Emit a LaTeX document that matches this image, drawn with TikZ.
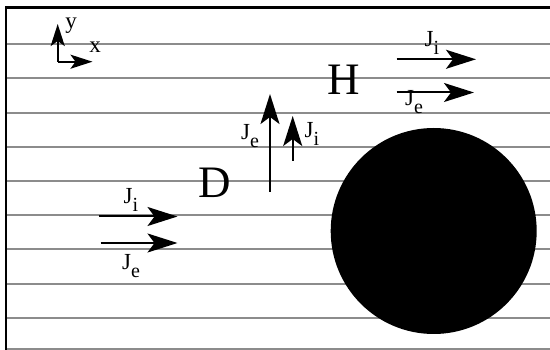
\documentclass[tikz,border=0pt]{standalone}
\usepackage{fontspec}
\setmainfont{Liberation Serif}
\usetikzlibrary{arrows.meta}
\definecolor{linegray}{HTML}{8C8C8C}
\newcommand\Jlab[1]{J\raisebox{-0.32em}{\fontsize{20}{20}\selectfont #1}}
\begin{document}
\begin{tikzpicture}[x=1pt,y=-1pt,
  gridline/.style={draw=linegray, line width=2pt},
  border/.style={draw=black, line width=2.2pt},
  bigarrow/.style={draw=black, line width=2pt, -{Stealth[length=30pt,width=19pt,inset=7pt]}},
  axisarrow/.style={draw=black, line width=2pt, -{Stealth[length=22pt,width=14pt,inset=5pt]}},
  jlabel/.style={inner sep=0pt, font=\fontsize{23}{27}\selectfont},
  biglabel/.style={inner sep=0pt, font=\fontsize{45}{50}\selectfont},
  axlabel/.style={inner sep=0pt, anchor=base, font=\fontsize{23}{27}\selectfont}]
\useasboundingbox (0,0) rectangle (550,350);
% horizontal grid lines
\foreach \k in {0,...,8} {
  \draw[gridline] (7,{44.3+34.2*\k}) -- (550,{44.3+34.2*\k});
}
\draw[gridline] (7,349.3) -- (550,349.3);
% borders
\draw[border] (6,350) -- (6,7.5) -- (550,7.5);
% obstacle
\fill[black] (433.7,231) circle (103);
% axes
\coordinate (o) at (57.7,61.7);
\coordinate (ytip) at (57.7,24);
\coordinate (xtip) at (92.5,61.7);
\draw[axisarrow] (o) -- (ytip);
\draw[axisarrow] (o) -- (xtip);
\node[axlabel] (ylab) at (71,29) {y};
\node[axlabel] (xlab) at (95,53) {x};
% region labels
\node[biglabel] (D) at (215,183) {D};
\node[biglabel] (H) at (343.5,80) {H};
% lower-left arrows
\coordinate (a1s) at (98.5,216.5);
\coordinate (a1e) at (177.5,216.5);
\coordinate (a2s) at (100.5,243);
\coordinate (a2e) at (177.5,243);
\draw[bigarrow] (a1s) -- (a1e);
\draw[bigarrow] (a2s) -- (a2e);
\node[jlabel] (ji1) at (131,200) {\Jlab{i}};
\node[jlabel] (je1) at (131,266) {\Jlab{e}};
% vertical arrows
\coordinate (v1s) at (270,191.7);
\coordinate (v1e) at (270,94);
\coordinate (v2s) at (292.7,160.7);
\coordinate (v2e) at (292.7,116);
\draw[bigarrow] (v1s) -- (v1e);
\draw[bigarrow] (v2s) -- (v2e);
\node[jlabel] (je2) at (250,136) {\Jlab{e}};
\node[jlabel] (ji2) at (312,134) {\Jlab{i}};
% upper-right arrows
\coordinate (h1s) at (396.5,59.3);
\coordinate (h1e) at (476,59.3);
\coordinate (h2s) at (396.5,92.5);
\coordinate (h2e) at (474,92.5);
\draw[bigarrow] (h1s) -- (h1e);
\draw[bigarrow] (h2s) -- (h2e);
\node[jlabel] (ji3) at (432,43) {\Jlab{i}};
\node[jlabel] (je3) at (414,102) {\Jlab{e}};
\end{tikzpicture}
\end{document}
